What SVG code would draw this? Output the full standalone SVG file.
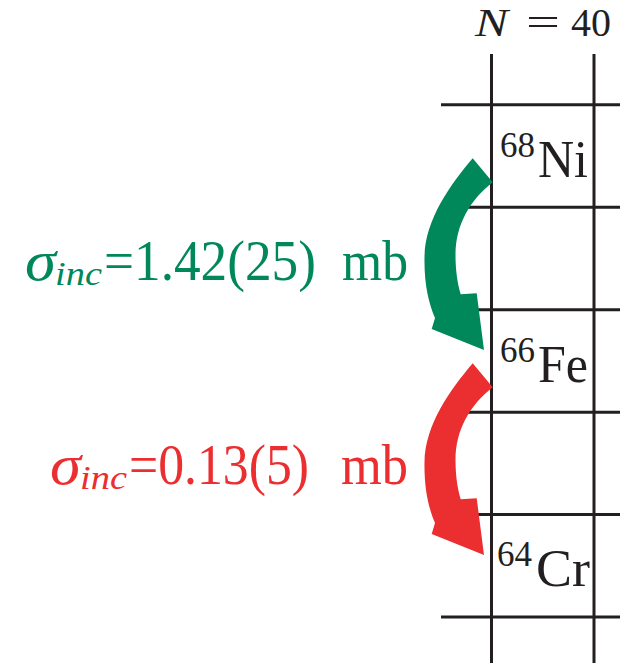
<svg xmlns="http://www.w3.org/2000/svg" width="620" height="663" viewBox="0 0 620 663">
  <style>
    .grid line { stroke: #231F20; stroke-width: 3; }
    .t { font-family: "Liberation Serif", "DejaVu Serif", serif; fill: #231F20; }
    .it { font-style: italic; }
    .green { fill: #00875A; }
    .red { fill: #EB2E30; }
    .lbl { font-family: "Liberation Serif", "DejaVu Serif", serif; }
  </style>
  <defs>
    <path id="arc" d="M472.7,158.3 C450,185 425,220 424.5,257 C424,285 429,304 435,318 L431.7,329 L484,350 L476.7,293.3 L460.7,294.3 C457,282 455.5,268 455.5,255 C455.5,225 470,200 492.7,182.3 Z"/>
  </defs>
  <rect width="620" height="663" fill="#ffffff"/>

  <g id="grid" class="grid">
    <line x1="491.5" y1="54" x2="491.5" y2="663"/>
    <line x1="594" y1="54" x2="594" y2="663"/>
    <line x1="441" y1="104.8" x2="620" y2="104.8"/>
    <line x1="441" y1="207.3" x2="620" y2="207.3"/>
    <line x1="441" y1="309.7" x2="620" y2="309.7"/>
    <line x1="441" y1="412.2" x2="620" y2="412.2"/>
    <line x1="441" y1="514.6" x2="620" y2="514.6"/>
    <line x1="441" y1="617" x2="620" y2="617"/>
  </g>

  <g id="title">
    <text class="t it" x="475" y="36" font-size="41" textLength="33" lengthAdjust="spacingAndGlyphs">N</text>
    <text class="t" x="526" y="36" font-size="40" textLength="34" lengthAdjust="spacingAndGlyphs">=</text>
    <text class="t" x="571" y="36" font-size="40" textLength="40" lengthAdjust="spacingAndGlyphs">40</text>
  </g>

  <g id="node-ni68">
    <text class="t" x="500" y="157" font-size="35" textLength="35" lengthAdjust="spacingAndGlyphs">68</text>
    <text class="t" x="538" y="177" font-size="52" textLength="50" lengthAdjust="spacingAndGlyphs">Ni</text>
  </g>
  <g id="node-fe66">
    <text class="t" x="500" y="362" font-size="35" textLength="35" lengthAdjust="spacingAndGlyphs">66</text>
    <text class="t" x="538" y="382" font-size="52" textLength="50" lengthAdjust="spacingAndGlyphs">Fe</text>
  </g>
  <g id="node-cr64">
    <text class="t" x="497" y="566" font-size="35" textLength="35" lengthAdjust="spacingAndGlyphs">64</text>
    <text class="t" x="536" y="586" font-size="52" textLength="54" lengthAdjust="spacingAndGlyphs">Cr</text>
  </g>

  <g id="connectors">
    <use href="#arc" class="green"/>
    <use href="#arc" class="red" transform="translate(0,205)"/>
  </g>

  <g id="label-green" class="green">
    <text class="lbl it" x="25" y="280" font-size="56" textLength="31" lengthAdjust="spacingAndGlyphs">σ</text>
    <text class="lbl it" x="55" y="285" font-size="34" textLength="47" lengthAdjust="spacingAndGlyphs">inc</text>
    <text class="lbl" x="104" y="280" font-size="56" textLength="212" lengthAdjust="spacingAndGlyphs">=1.42(25)</text>
    <text class="lbl" x="342" y="280" font-size="56" textLength="66" lengthAdjust="spacingAndGlyphs">mb</text>
  </g>
  <g id="label-red" class="red">
    <text class="lbl it" x="50" y="484" font-size="56" textLength="31" lengthAdjust="spacingAndGlyphs">σ</text>
    <text class="lbl it" x="80" y="489" font-size="34" textLength="47" lengthAdjust="spacingAndGlyphs">inc</text>
    <text class="lbl" x="129" y="484" font-size="56" textLength="180" lengthAdjust="spacingAndGlyphs">=0.13(5)</text>
    <text class="lbl" x="341" y="484" font-size="56" textLength="67" lengthAdjust="spacingAndGlyphs">mb</text>
  </g>
</svg>
